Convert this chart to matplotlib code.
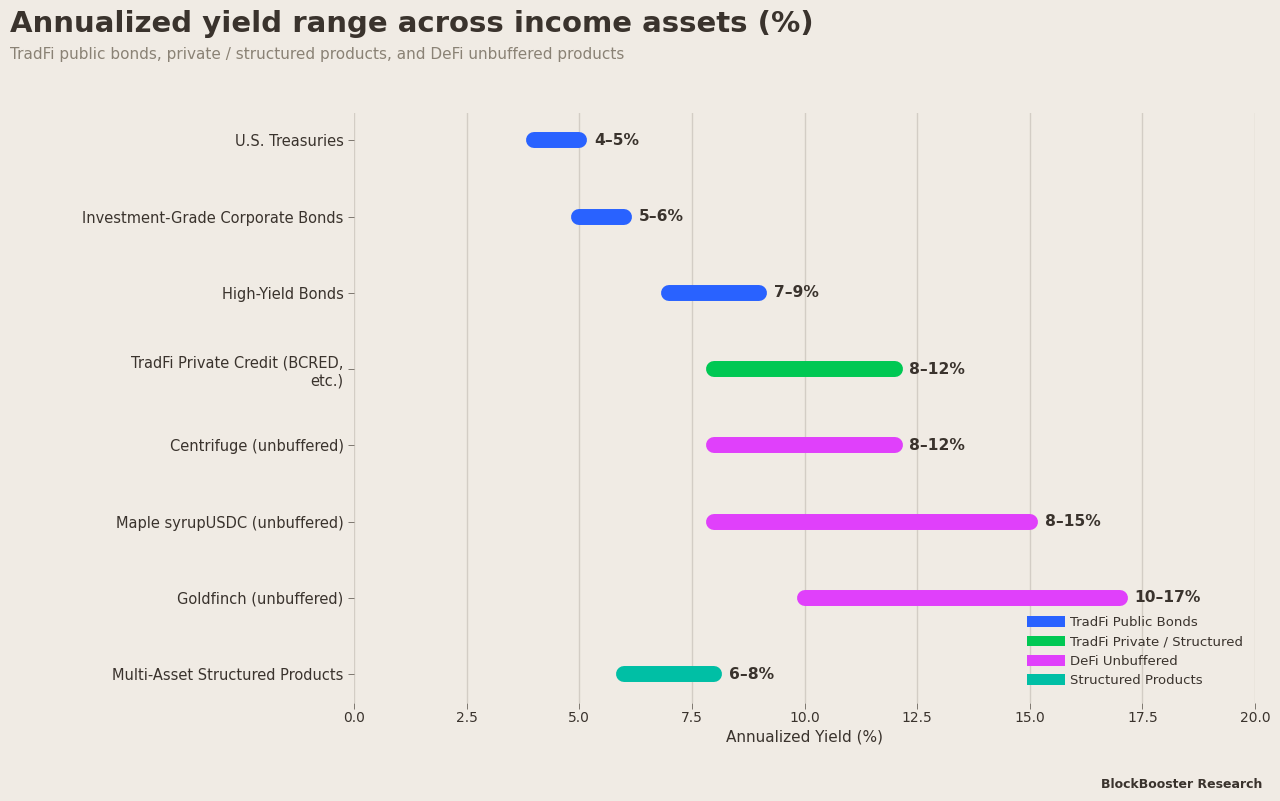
import matplotlib.pyplot as plt
from matplotlib.patches import Patch

# data
assets = [
    "U.S. Treasuries",
    "Investment-Grade Corporate Bonds",
    "High-Yield Bonds",
    "TradFi Private Credit (BCRED,\netc.)",
    "Centrifuge (unbuffered)",
    "Maple syrupUSDC (unbuffered)",
    "Goldfinch (unbuffered)",
    "Multi-Asset Structured Products",
]
low = [4, 5, 7, 8, 8, 8, 10, 6]
high = [5, 6, 9, 12, 12, 15, 17, 8]
groups = ["public", "public", "public", "private", "defi", "defi", "defi", "structured"]

group_colors = {
    "public": "#2962FF",
    "private": "#00C853",
    "defi": "#E040FB",
    "structured": "#00BFA5",
}
group_labels = {
    "public": "TradFi Public Bonds",
    "private": "TradFi Private / Structured",
    "defi": "DeFi Unbuffered",
    "structured": "Structured Products",
}

bg = "#F0EBE4"
dark = "#3A332D"

fig = plt.figure(figsize=(12.8, 8.01), dpi=100, facecolor=bg)
ax = fig.add_axes([354 / 1280, 1 - 703 / 801, (1255 - 354) / 1280, (703 - 113) / 801])
ax.set_facecolor(bg)

# one rounded line per asset, low -> high
for i, (lo, hi, g) in enumerate(zip(low, high, groups)):
    ax.plot([lo, hi], [i, i], color=group_colors[g], lw=11.5,
            solid_capstyle="round", zorder=3)
    ax.text(hi + 0.33, i, f"{lo}\u2013{hi}%", va="center", ha="left",
            fontsize=11.2, fontweight="bold", color=dark, zorder=4)

ax.set_xlim(0, 20)
ax.set_ylim(len(assets) - 1 + 0.38, -0.36)
ax.set_yticks(range(len(assets)))
ax.set_yticklabels(assets, fontsize=10.5, color=dark)
ax.set_xticks([0, 2.5, 5, 7.5, 10, 12.5, 15, 17.5, 20])
ax.tick_params(axis="x", labelsize=10, colors=dark, length=4, color="#6b645c", width=0.6, pad=2)
ax.tick_params(axis="y", length=4, color="#6b645c", width=0.6)
ax.set_xlabel("Annualized Yield (%)", fontsize=11, color=dark, labelpad=3)
ax.grid(axis="x", color="#D3CDC5", lw=1.0, zorder=0)
ax.set_axisbelow(True)
for s in ax.spines.values():
    s.set_visible(False)

handles = [Patch(facecolor=group_colors[k], label=group_labels[k]) for k in group_colors]
leg = ax.legend(handles=handles, loc="lower right", frameon=False, fontsize=9.5,
                handlelength=2.9, handleheight=0.9, labelspacing=0.47,
                handletextpad=0.4, bbox_to_anchor=(1.0, 0.007))
for t in leg.get_texts():
    t.set_color(dark)

fig.text(10 / 1280, 1 - 24 / 801, "Annualized yield range across income assets (%)",
         fontsize=21, fontweight="bold", color=dark, va="center", ha="left")
fig.text(10 / 1280, 1 - 55 / 801,
         "TradFi public bonds, private / structured products, and DeFi unbuffered products",
         fontsize=11, color="#8A8275", va="center", ha="left")
fig.text(1262 / 1280, 1 - 784 / 801, "BlockBooster Research", fontsize=9,
         fontweight="bold", color=dark, va="center", ha="right")

fig.savefig("out.png", dpi=100, facecolor=bg)
